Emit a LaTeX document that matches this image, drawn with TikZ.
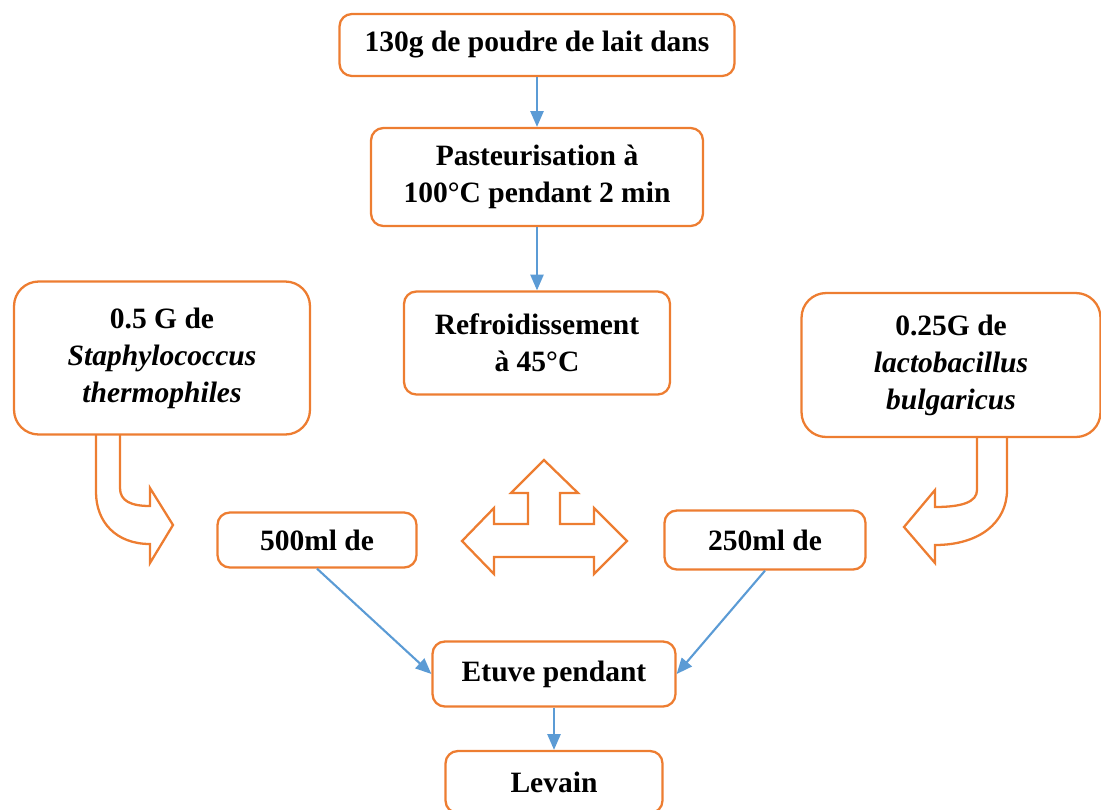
\documentclass[tikz,border=0pt]{standalone}
\usepackage{fontspec}
\setmainfont{Liberation Serif}
\usetikzlibrary{arrows.meta}
\definecolor{boxorange}{HTML}{ED7D31}
\definecolor{flowblue}{HTML}{5B9BD5}

\begin{document}
\begin{tikzpicture}[x=0.02cm,y=-0.02cm,
        box/.style={draw=boxorange, line width=1.3pt, rounded corners=7pt, align=center,
            inner sep=0pt, font=\fontsize{16.8}{21}\selectfont\bfseries},
        bigbox/.style={box, rounded corners=14pt},
        flow/.style={draw=flowblue, line width=1.2pt, -{Triangle[length=9pt,width=7.5pt]}},
        bigarrow/.style={draw=boxorange, line width=1.3pt, line join=miter}]
    \clip (0,0) rectangle (1101,809);

    % main line
    \node[box, minimum width=7.9cm, minimum height=1.24cm] (lait) at (537,45) {130g de poudre de lait dans};
    \node[box, minimum width=6.64cm, minimum height=1.96cm] (pasteur) at (537,177) {Pasteurisation à\\100°C pendant 2 min};
    \node[box, minimum width=5.32cm, minimum height=2.06cm] (refroid) at (537,343) {Refroidissement\\à 45°C};

    % ferments
    \node[bigbox, minimum width=5.92cm, minimum height=3.06cm] (staph) at (162,358)
        {0.5 G de\\\textit{Staphylococcus}\\\textit{thermophiles}};
    \node[bigbox, minimum width=5.98cm, minimum height=2.88cm] (lacto) at (951,365)
        {0.25G de\\\textit{lactobacillus}\\\textit{bulgaricus}};

    % volumes
    \node[box, minimum width=3.98cm, minimum height=1.1cm] (vol500) at (317,540) {500ml de};
    \node[box, minimum width=4.02cm, minimum height=1.18cm] (vol250) at (765,540) {250ml de};

    \node[box, minimum width=4.86cm, minimum height=1.3cm] (etuve) at (554,674) {Etuve pendant};
    \node[box, minimum width=4.34cm, minimum height=1.24cm] (levain) at (554,782) {Levain};

    % connectors
    \draw[flow] (lait) -- (pasteur);
    \draw[flow] (pasteur) -- (refroid);
    \draw[flow] (vol500.south) -- (etuve.west);
    \draw[flow] (vol250.south) -- (etuve.east);
    \draw[flow] (etuve) -- (levain);

    % bent arrows
    \draw[bigarrow] (120,435) -- (120,488) .. controls (120,501) and (131,506) .. (150,506)
        -- (150,488) -- (173,525) -- (150,563) -- (150,544)
        .. controls (116,544) and (96,522) .. (96,492) -- (96,435);
    \draw[bigarrow] (977,437) -- (977,490) .. controls (977,502) and (962,507) .. (935,507)
        -- (935,490) -- (904,527) -- (935,563) -- (935,545)
        .. controls (980,545) and (1007,522) .. (1007,490) -- (1007,437);

    % three-way arrow
    \draw[bigarrow] (544,460) -- (578,493) -- (560,493) -- (560,524) -- (594,524) -- (594,508)
        -- (627,541) -- (594,574) -- (594,557) -- (494,557) -- (494,574) -- (462,541)
        -- (494,508) -- (494,524) -- (528,524) -- (528,493) -- (511,493) -- cycle;
\end{tikzpicture}
\end{document}
